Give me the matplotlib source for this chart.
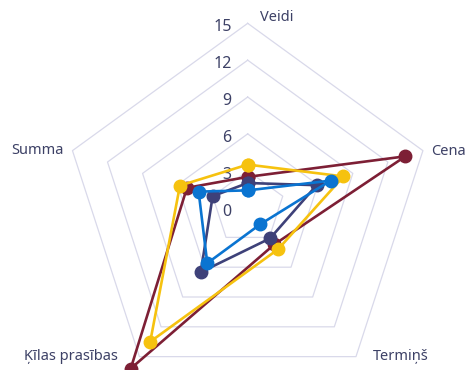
import numpy as np
import matplotlib
matplotlib.use("Agg")
import matplotlib.pyplot as plt

categories = ["Veidi", "Cena", "Termiņš", "Ķīlas prasības", "Summa"]
series_names = ["Sērija 1", "Sērija 2", "Sērija 3", "Sērija 4"]
series_maroon = [2.5, 13.5, 3.7, 16.2, 5.2]
series_yellow = [3.5, 8.2, 4.2, 13.5, 5.8]
series_navy = [2.0, 5.9, 3.1, 6.5, 3.0]
series_blue = [1.4, 7.1, 1.7, 5.6, 4.2]
colors = ["#7d1f35", "#f6c20f", "#3e4179", "#0a74d1"]
rticks = [0, 3, 6, 9, 12, 15]

plt.rcParams['font.family'] = ['Noto Sans', 'DejaVu Sans']
text_color = "#3d4166"
grid_color = "#d9d9ea"

fig = plt.figure(figsize=(4.7, 3.7), dpi=100)
ax = fig.add_axes([0.135, -0.059, 0.784, 0.996], projection='polar')
ax.set_theta_offset(np.pi / 2)
ax.set_theta_direction(-1)
ax.set_ylim(0, 15)
ax.grid(False)
ax.spines['polar'].set_visible(False)
ax.set_xticks([])
ax.set_yticks([])
ax.patch.set_alpha(0)

n = len(categories)
theta = np.linspace(0, 2 * np.pi, n, endpoint=False)
theta_c = np.append(theta, theta[0])

for r in rticks[1:]:
    ax.plot(theta_c, [r] * (n + 1), color=grid_color, lw=0.9, zorder=1, clip_on=False)

for r in rticks:
    ax.annotate(str(r), xy=(0, r), xytext=(-16, -4), textcoords='offset pixels',
                ha='right', va='center', fontsize=11.5, color=text_color)

offsets = [((12, 6), 'left'), ((8, -1), 'left'), ((17, 0), 'left'),
           ((-22, 0), 'right'), ((-9, 0), 'right')]
for t, lab, (off, ha) in zip(theta, categories, offsets):
    ax.annotate(lab, xy=(t, 15), xytext=off, textcoords='offset pixels',
                ha=ha, va='center', fontsize=10.5, color=text_color)

all_series = [series_maroon, series_yellow, series_navy, series_blue]
for i, (name, vals, c) in enumerate(zip(series_names, all_series, colors)):
    v = np.append(vals, vals[0])
    ax.plot(theta_c, v, color=c, lw=1.9, marker='o', markersize=9,
            label=name, clip_on=False, zorder=3 + i)

fig.savefig("out.png", dpi=100)
